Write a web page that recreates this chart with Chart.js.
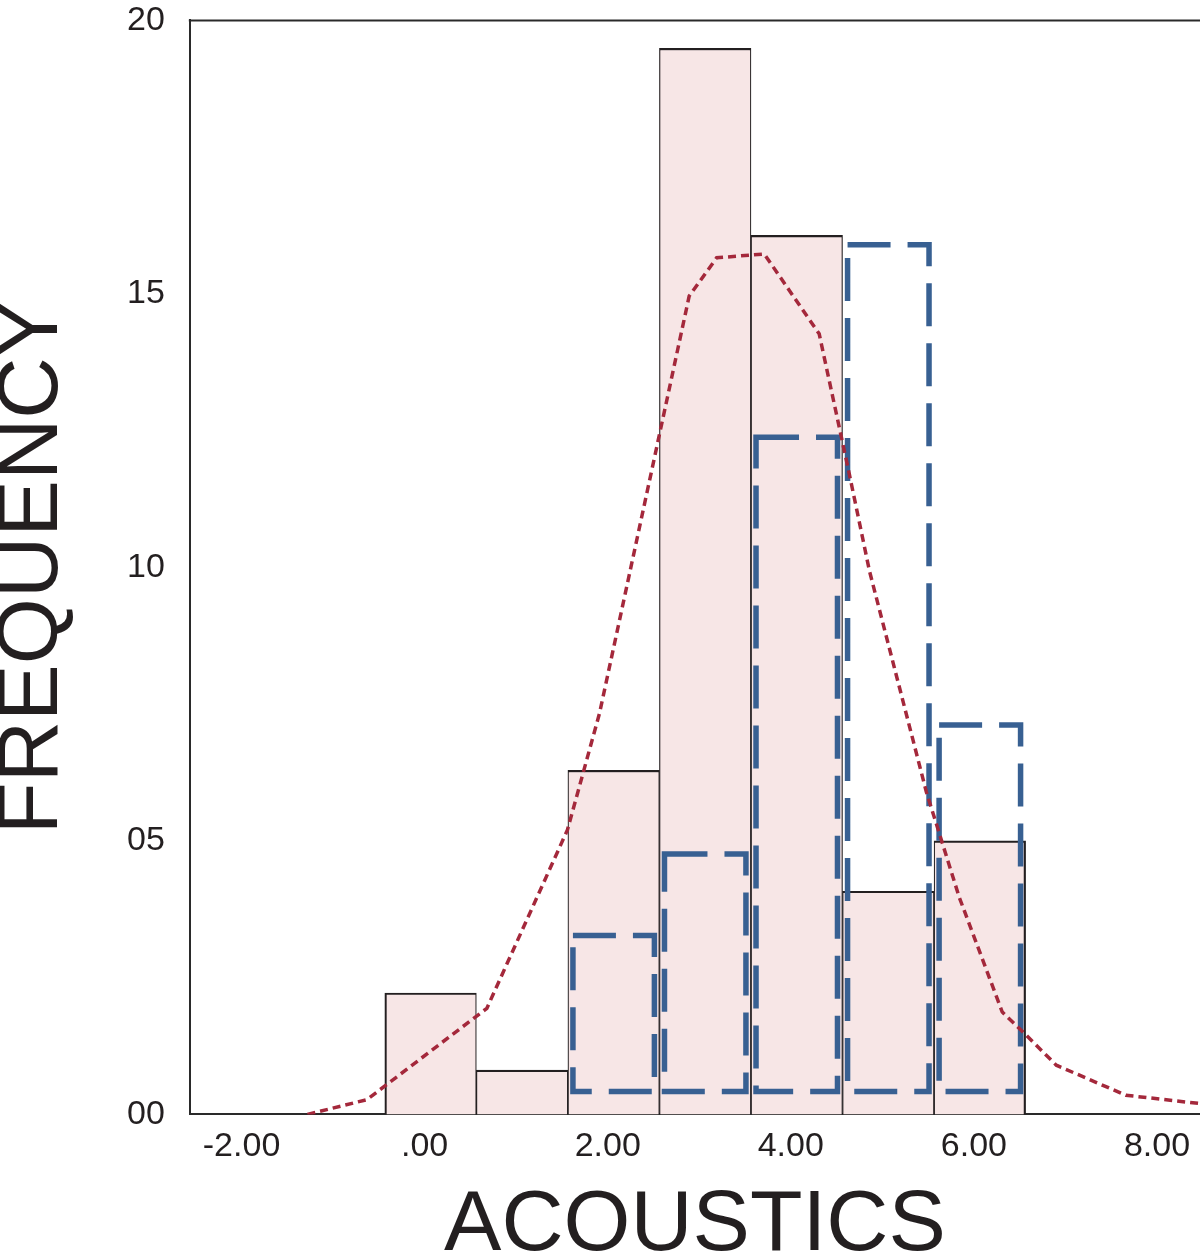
<!DOCTYPE html>
<html>
<head>
<meta charset="utf-8">
<title>Acoustics histogram</title>
<script src="https://cdn.jsdelivr.net/npm/chart.js@4.4.1/dist/chart.umd.min.js"></script>
<style>
  html, body { margin: 0; padding: 0; background: #fff; }
  #wrap { width: 1200px; height: 1255px; position: relative; }
</style>
</head>
<body>
<div id="wrap"><canvas id="histChart"></canvas></div>
<script>
// bin centres and counts of the filled histogram
const binCentres = [0.065, 1.065, 2.065, 3.065, 4.065, 5.065, 6.065];
const binCounts = [2.22, 0.81, 6.29, 19.49, 16.07, 4.08, 5.0];

// second (outlined) histogram, drawn as floating boxes on the same bins
const groupCentres = [2.065, 3.065, 4.065, 5.065, 6.065];
const groupTops = [3.27, 4.76, 12.38, 15.9, 7.12];
const groupBase = 0.42;

// fitted density line
const curveX = [-1.28, -0.63, 0.68, 1.56, 1.91, 2.89, 3.19, 3.71, 4.31, 4.64, 4.86, 5.48, 5.84, 6.31, 6.57, 6.90, 7.66, 8.46];
const curveY = [0, 0.27, 1.94, 5.2, 7.33, 14.96, 15.66, 15.73, 14.27, 11.7, 9.93, 5.9, 3.97, 1.87, 1.45, 0.9, 0.35, 0.2];

const xTicks = [-2, 0, 2, 4, 6, 8];
const yTicks = [0, 5, 10, 15, 20];

const FONT = "'Liberation Sans', Arial, Helvetica, sans-serif";
const INK = '#231f20';

// Chart.js has no dashed bar borders, so outline the group boxes by hand
const dashedBoxes = {
    id: 'dashedBoxes',
    afterDatasetDraw(chart, args) {
        const ds = chart.data.datasets[args.index];
        if (!ds.dashedOutline) return;
        const ctx = chart.ctx;
        const lw = 5.5;
        ctx.save();
        ctx.strokeStyle = ds.dashedOutline;
        ctx.lineWidth = lw;
        ctx.setLineDash([43, 17]);
        args.meta.data.forEach(el => {
            const p = el.getProps(['x', 'y', 'base', 'width'], true);
            const left = p.x - p.width / 2 + lw / 2;
            const top = Math.min(p.y, p.base);
            const h = Math.abs(p.base - p.y);
            ctx.strokeRect(left, top, p.width - lw, h);
        });
        ctx.restore();
    }
};

// frame line along the top of the plot
const topFrame = {
    id: 'topFrame',
    afterDraw(chart) {
        const { ctx, chartArea } = chart;
        ctx.save();
        ctx.strokeStyle = '#2a2a2a';
        ctx.lineWidth = 2;
        ctx.beginPath();
        ctx.moveTo(chartArea.left - 1, chartArea.top);
        ctx.lineTo(chartArea.right, chartArea.top);
        ctx.stroke();
        ctx.restore();
    }
};

const last = binCounts.length - 1;

new Chart(document.getElementById('histChart').getContext('2d'), {
    type: 'bar',
    data: {
        datasets: [
            {
                type: 'line',
                label: 'Density',
                data: curveX.map((x, i) => ({ x: x, y: curveY[i] })),
                borderColor: '#a4283b',
                borderWidth: 3.5,
                borderDash: [8, 5],
                pointRadius: 0,
                tension: 0,
                fill: false,
                order: 0
            },
            {
                label: 'Group',
                data: groupCentres.map((x, i) => ({ x: x, y: [groupBase, groupTops[i]] })),
                backgroundColor: 'rgba(0,0,0,0)',
                borderWidth: 0,
                dashedOutline: '#386092',
                grouped: false,
                barPercentage: 0.95,
                categoryPercentage: 1,
                order: 1
            },
            {
                label: 'Frequency',
                data: binCentres.map((x, i) => ({ x: x, y: binCounts[i] })),
                backgroundColor: '#f7e6e6',
                borderColor: '#231f20',
                // neighbouring bins share an edge, so inner sides get half width
                borderWidth: ctx => ({
                    top: 2.2,
                    bottom: 0,
                    left: ctx.dataIndex === 0 ? 2.2 : 1.2,
                    right: ctx.dataIndex === last ? 2.2 : 1.2
                }),
                borderSkipped: false,
                grouped: false,
                barPercentage: 1,
                categoryPercentage: 1,
                order: 2
            }
        ]
    },
    options: {
        responsive: true, maintainAspectRatio: false,
        animation: false,
        layout: { padding: 0 },
        plugins: { legend: { display: false }, tooltip: { enabled: false } },
        scales: {
            x: {
                type: 'linear',
                offset: false,
                min: -2.565,
                max: 8.47,
                afterBuildTicks: scale => { scale.ticks = xTicks.map(v => ({ value: v })); },
                // hidden tick marks only reserve the gap under the axis
                grid: { display: false, drawTicks: true, tickLength: 12 },
                border: { display: true, color: '#2a2a2a', width: 2 },
                ticks: {
                    padding: 0,
                    maxRotation: 0,
                    autoSkip: false,
                    color: INK,
                    font: { family: FONT, size: 34 },
                    callback: v => (v === 0 ? '.00' : v.toFixed(2))
                },
                title: {
                    display: true,
                    text: 'ACOUSTICS',
                    color: INK,
                    font: { family: FONT, size: 86, lineHeight: 0.8 },
                    padding: { top: 25, bottom: -6 }
                }
            },
            y: {
                min: 0,
                max: 20,
                afterBuildTicks: scale => { scale.ticks = yTicks.map(v => ({ value: v })); },
                grid: { display: false, drawTicks: true, tickLength: 25 },
                border: { display: true, color: '#2a2a2a', width: 2 },
                ticks: {
                    padding: 0,
                    color: INK,
                    font: { family: FONT, size: 34 },
                    callback: v => String(v).padStart(2, '0')
                },
                title: {
                    display: true,
                    text: 'FREQUENCY',
                    color: INK,
                    font: { family: FONT, size: 85, lineHeight: 0.8 },
                    padding: { top: 0, bottom: 59 }
                }
            }
        }
    },
    plugins: [dashedBoxes, topFrame]
});
</script>
</body>
</html>
